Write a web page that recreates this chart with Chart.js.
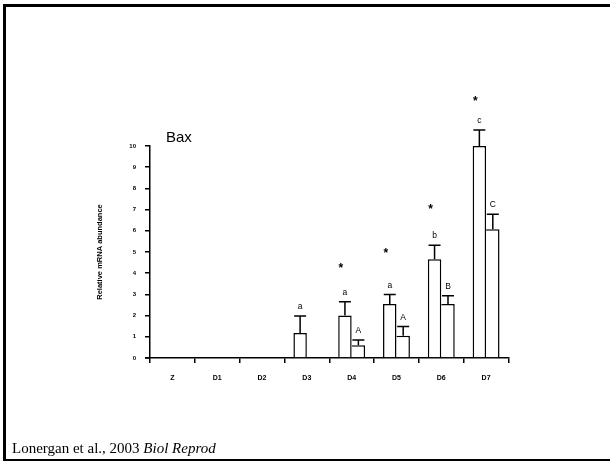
<!DOCTYPE html>
<html>
<head>
<meta charset="utf-8">
<script src="https://cdn.jsdelivr.net/npm/chart.js@4"></script>
<style>
  html, body { margin:0; padding:0; width:610px; height:461px; overflow:hidden; background:#fff; }
  #frame { position:absolute; left:3px; top:4px; width:800px; height:452px;
           border-top:3px solid #000; border-left:3px solid #000; border-bottom:2px solid #000; }
  #c { position:absolute; left:0; top:0; }
  #bax { position:absolute; left:166px; top:129px; font:15px "Liberation Sans", Arial, sans-serif; color:#000; line-height:15px; }
  #cite { position:absolute; left:12px; top:441px; font:15px "Liberation Serif", "Times New Roman", serif; line-height:15px; color:#000; white-space:nowrap; }
</style>
</head>
<body>
<div id="frame"></div>
<canvas id="c" width="610" height="461"></canvas>
<div id="bax">Bax</div>
<div id="cite">Lonergan et al., 2003 <i>Biol Reprod</i></div>
<script>
// ---- data ----
const categories = ['Z', 'D1', 'D2', 'D3', 'D4', 'D5', 'D6', 'D7'];
const seriesA    = [null, null, null, 1.18, 2.0, 2.55, 4.66, 10.0];   // first bar (lowercase letters)
const seriesAErr = [null, null, null, 0.8, 0.65, 0.44, 0.66, 0.75];
const seriesB    = [null, null, null, null, 0.6, 1.05, 2.55, 6.07];   // second bar (uppercase letters)
const seriesBErr = [null, null, null, null, 0.25, 0.43, 0.39, 0.71];
const lettersA   = ['', '', '', 'a', 'a', 'a', 'b', 'c'];
const lettersB   = ['', '', '', '', 'A', 'A', 'B', 'C'];
const starLevels = [null, null, null, null, 4.3, 5.0, 7.1, 12.2];
const yTicks     = [0, 1, 2, 3, 4, 5, 6, 7, 8, 9, 10];

const SANS = '"Liberation Sans", Arial, sans-serif';

const annotate = {
  id: 'annotate',
  afterDatasetsDraw(chart) {
    const ctx = chart.ctx;
    const y = chart.scales.y;
    const area = chart.chartArea;
    const sets = [
      { meta: chart.getDatasetMeta(0), vals: seriesA, errs: seriesAErr, letters: lettersA },
      { meta: chart.getDatasetMeta(1), vals: seriesB, errs: seriesBErr, letters: lettersB }
    ];
    ctx.save();
    ctx.strokeStyle = '#000';
    ctx.fillStyle = '#000';
    ctx.lineWidth = 1.5;
    // small extension of the x axis to the left of the y axis
    ctx.beginPath();
    ctx.moveTo(area.left - 5, area.bottom);
    ctx.lineTo(area.left, area.bottom);
    ctx.stroke();
    sets.forEach(s => {
      s.vals.forEach((v, i) => {
        if (v === null) return;
        const bar = s.meta.data[i];
        const x = bar.x;
        const yTop = y.getPixelForValue(v);
        const yErr = y.getPixelForValue(v + s.errs[i]);
        ctx.beginPath();
        ctx.moveTo(x, yTop);
        ctx.lineTo(x, yErr);
        ctx.moveTo(x - 6, yErr);
        ctx.lineTo(x + 6, yErr);
        ctx.stroke();
        if (s.letters[i]) {
          ctx.font = '8.5px ' + SANS;
          ctx.textAlign = 'center';
          ctx.textBaseline = 'alphabetic';
          ctx.fillText(s.letters[i], x, yErr - 7);
        }
      });
    });
    const metaA = chart.getDatasetMeta(0);
    starLevels.forEach((lv, i) => {
      if (lv === null) return;
      const x = metaA.data[i].x - 4;
      ctx.font = 'bold 12px ' + SANS;
      ctx.textAlign = 'center';
      ctx.textBaseline = 'middle';
      ctx.fillText('*', x, y.getPixelForValue(lv) + 2);
    });
    ctx.restore();
  }
};

new Chart(document.getElementById('c'), {
  type: 'bar',
  data: {
    labels: categories,
    datasets: [
      { data: seriesA, backgroundColor: '#fff', borderColor: '#000', borderWidth: 1.5 },
      { data: seriesB, backgroundColor: '#fff', borderColor: '#000',
        borderWidth: { left: 0, top: 1.5, right: 1.5, bottom: 0 } }
    ]
  },
  options: {
    responsive: false,
    animation: false,
    devicePixelRatio: 1,
    layout: { padding: { left: 0, top: 146, right: 101.5, bottom: 0 } },
    plugins: { legend: { display: false }, tooltip: { enabled: false } },
    datasets: { bar: { categoryPercentage: 0.6, barPercentage: 1.0 } },
    scales: {
      x: {
        afterFit(scale) { scale.height = 103; },
        grid: {
          drawOnChartArea: false, drawTicks: true, tickLength: 5, lineWidth: 1.5,
          color: (c) => (c.index === categories.length ? 'rgba(0,0,0,0)' : '#000')
        },
        border: { display: true, color: '#000', width: 1.5 },
        ticks: { color: '#000', font: { family: SANS, size: 7, weight: 'bold' }, padding: 11 }
      },
      y: {
        min: 0, max: 10,
        afterFit(scale) { scale.width = 150; },
        afterBuildTicks(scale) { scale.ticks = yTicks.map(v => ({ value: v })); },
        grid: { drawOnChartArea: false, drawTicks: true, tickLength: 5, lineWidth: 1.5, color: '#000' },
        border: { display: true, color: '#000', width: 1.5 },
        ticks: { color: '#000', font: { family: SANS, size: 6, weight: 'bold' }, padding: 9 },
        title: {
          display: true, text: 'Relative mRNA abundance', color: '#000',
          font: { family: SANS, size: 7.5, weight: 'bold' },
          padding: { top: 95, bottom: 0 }
        }
      }
    }
  },
  plugins: [annotate]
});
</script>
</body>
</html>
